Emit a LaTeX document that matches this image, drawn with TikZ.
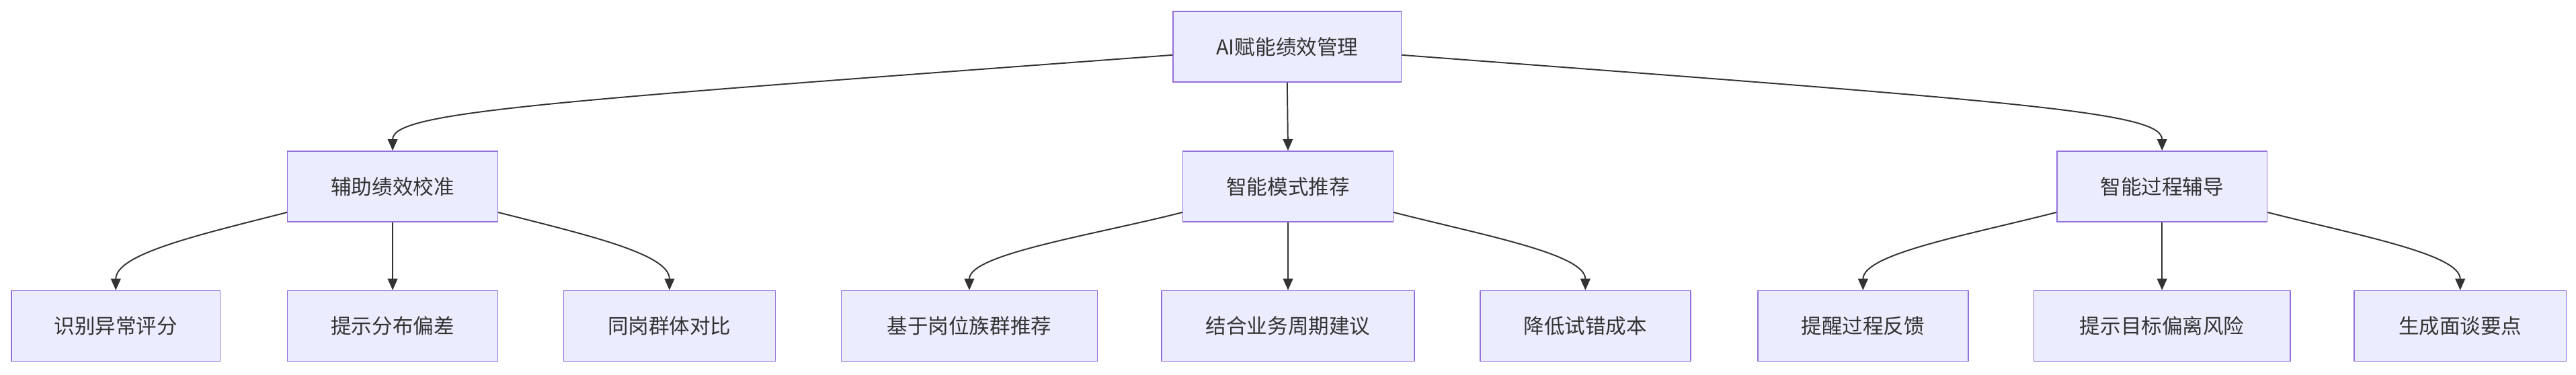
\documentclass[tikz,border=0pt]{standalone}
\usepackage{fontspec}
\newfontfamily\cjk{Noto Sans CJK SC}
\usetikzlibrary{arrows.meta}
\definecolor{nfill}{HTML}{ECECFF}
\definecolor{nline}{HTML}{9370DB}
\definecolor{eline}{HTML}{333333}
\begin{document}
\begin{tikzpicture}[x=1pt,y=-1pt,
  box/.style={draw=nline,fill=nfill,line width=0.6pt,minimum height=43pt,inner sep=0pt,font=\cjk\fontsize{12.5}{14}\selectfont,text=eline},
  arr/.style={draw=eline,line width=0.8pt,-{Triangle[length=7pt,width=6pt]}}]
\useasboundingbox (0,0) rectangle (1568,228);
\node[box,minimum width=139pt] (r) at (783.5,28.5) {AI赋能绩效管理};
\node[box,minimum width=128pt] (b1) at (239,113.5) {辅助绩效校准};
\node[box,minimum width=128pt] (b2) at (784,113.5) {智能模式推荐};
\node[box,minimum width=128pt] (b3) at (1316,113.5) {智能过程辅导};
\node[box,minimum width=127pt] (c1) at (70.5,198.5) {识别异常评分};
\node[box,minimum width=128pt] (c2) at (239,198.5) {提示分布偏差};
\node[box,minimum width=129pt] (c3) at (407.5,198.5) {同岗群体对比};
\node[box,minimum width=156pt] (c4) at (590,198.5) {基于岗位族群推荐};
\node[box,minimum width=154pt] (c5) at (784,198.5) {结合业务周期建议};
\node[box,minimum width=128pt] (c6) at (965,198.5) {降低试错成本};
\node[box,minimum width=128pt] (c7) at (1134,198.5) {提醒过程反馈};
\node[box,minimum width=156pt] (c8) at (1316,198.5) {提示目标偏离风险};
\node[box,minimum width=129pt] (c9) at (1497.5,198.5) {生成面谈要点};
\draw[arr] ([yshift=-5pt]r.west) .. controls (330,62) and (239,68) .. (b1.north);
\draw[arr] (r.south) -- (b2.north);
\draw[arr] ([yshift=-5pt]r.east) .. controls (1230,62) and (1316,68) .. (b3.north);
\foreach \p/\a/\b/\c in {b1/c1/c2/c3,b2/c4/c5/c6,b3/c7/c8/c9}{
  \draw[arr] ([yshift=6pt]\p.south west) .. controls ([xshift=-55pt,yshift=-8pt]\p.south west) and ([yshift=22pt]\a.north) .. (\a.north);
  \draw[arr] (\p.south) -- (\b.north);
  \draw[arr] ([yshift=6pt]\p.south east) .. controls ([xshift=55pt,yshift=-8pt]\p.south east) and ([yshift=22pt]\c.north) .. (\c.north);
}
\end{tikzpicture}
\end{document}
